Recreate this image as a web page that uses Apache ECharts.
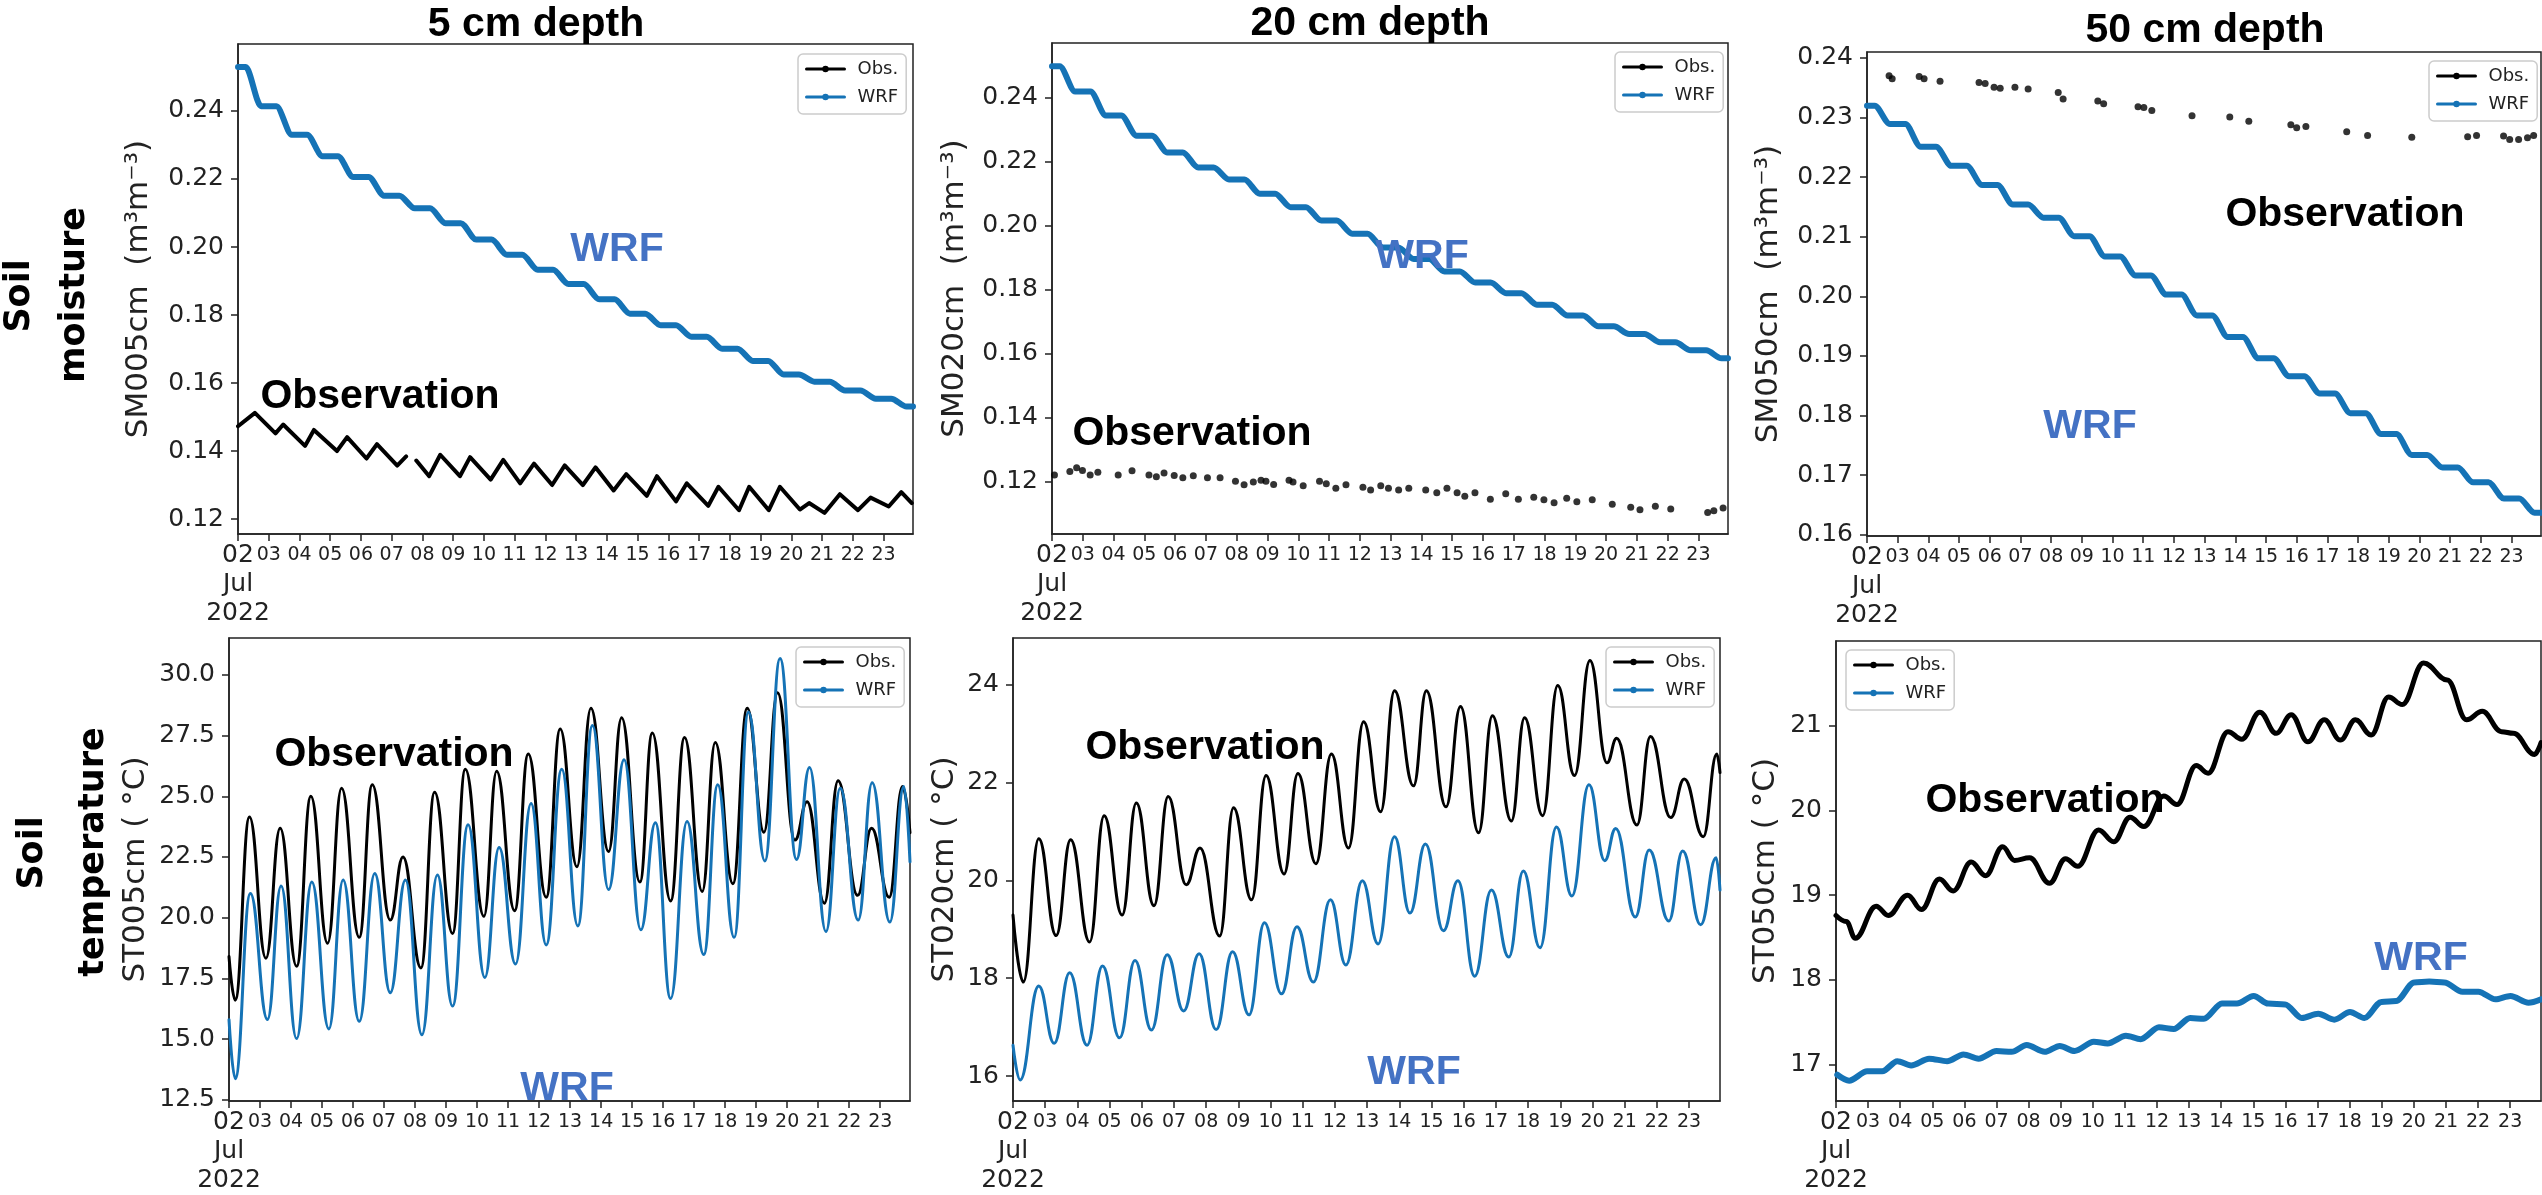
<!DOCTYPE html>
<html>
<head>
<meta charset="utf-8">
<script src="https://cdn.jsdelivr.net/npm/echarts@6/dist/echarts.min.js"></script>
<style>
html,body{margin:0;padding:0;background:#fff;}
#chart{width:2542px;height:1195px;}
</style>
</head>
<body>
<div id="chart"></div>
<script>
// ---------------- DATA (x = day of July 2022, fractional) ----------------
const dayTicks = [2,3,4,5,6,7,8,9,10,11,12,13,14,15,16,17,18,19,20,21,22,23];
const dayLabels = [3,4,5,6,7,8,9,10,11,12,13,14,15,16,17,18,19,20,21,22,23];
const majorDay = [2];
const smTicks = [0.12,0.14,0.16,0.18,0.20,0.22,0.24];
const sm50Ticks = [0.16,0.17,0.18,0.19,0.20,0.21,0.22,0.23,0.24];
const st005Ticks = [12.5,15,17.5,20,22.5,25,27.5,30];
const st020Ticks = [16,18,20,22,24];
const st050Ticks = [17,18,19,20,21];

// WRF soil moisture: value at start, plateau value around each midnight (Jul 3..23), final value
const sm005WrfStart = 0.2529;
const sm005WrfDaily = [0.2414,0.2330,0.2267,0.2206,0.2151,0.2114,0.2070,0.2022,0.1977,0.1933,0.1891,0.1846,0.1804,0.1770,0.1736,0.1701,0.1665,0.1625,0.1604,0.1578,0.1554];
const sm005WrfEnd = 0.1531;
const sm020WrfStart = 0.2499;
const sm020WrfDaily = [0.2420,0.2345,0.2282,0.2229,0.2182,0.2145,0.2100,0.2058,0.2016,0.1975,0.1932,0.1896,0.1857,0.1822,0.1789,0.1753,0.1719,0.1685,0.1661,0.1635,0.1610];
const sm020WrfEnd = 0.1585;
const sm050WrfStart = 0.2320;
const sm050WrfDaily = [0.2289,0.2251,0.2219,0.2187,0.2154,0.2132,0.2101,0.2067,0.2035,0.2003,0.1968,0.1932,0.1896,0.1866,0.1837,0.1804,0.1769,0.1734,0.1713,0.1688,0.1661];
const sm050WrfEnd = 0.1637;

// Observed soil moisture 5 cm (daily peaks / troughs)
const sm005Obs = [[2.0,0.1473],[2.55,0.1512],[3.22,0.1452],[3.47,0.1478],[4.18,0.1415],[4.47,0.1462],[5.22,0.1400],[5.55,0.1441],[6.18,0.1378],[6.52,0.1420],[7.18,0.1357],[7.47,0.1384],[7.62,'-'],[7.8,0.1372],[8.22,0.1326],[8.58,0.1389],[9.22,0.1326],[9.55,0.1382],[10.22,0.1316],[10.63,0.1374],[11.18,0.1305],[11.63,0.1363],[12.22,0.1300],[12.63,0.1358],[13.22,0.1300],[13.63,0.1352],[14.22,0.1284],[14.63,0.1332],[15.3,0.1268],[15.63,0.1326],[16.25,0.1252],[16.6,0.1305],[17.3,0.1239],[17.63,0.1295],[18.3,0.1226],[18.63,0.1295],[19.27,0.1226],[19.63,0.1295],[20.28,0.1228],[20.58,0.1247],[21.08,0.1218],[21.58,0.1273],[22.17,0.1226],[22.58,0.1263],[23.17,0.1237],[23.58,0.1279],[23.92,0.1247]];
// Observed soil moisture 20 cm (sparse points)
const sm020Obs = [[2.08,0.1220],[2.58,0.1231],[2.8,0.1242],[2.99,0.1234],[3.24,0.1220],[3.49,0.1228],[4.15,0.1220],[4.6,0.1233],[5.15,0.1220],[5.39,0.1214],[5.64,0.1226],[5.97,0.1218],[6.25,0.1211],[6.59,0.1217],[7.05,0.1211],[7.46,0.1211],[7.96,0.1200],[8.24,0.1189],[8.54,0.1198],[8.79,0.1203],[8.95,0.1200],[9.2,0.1190],[9.7,0.1203],[9.83,0.1198],[10.16,0.1186],[10.69,0.1200],[10.91,0.1192],[11.22,0.1178],[11.55,0.1189],[12.1,0.1181],[12.35,0.1173],[12.68,0.1186],[12.93,0.1178],[13.26,0.1173],[13.59,0.1178],[14.14,0.1173],[14.5,0.1164],[14.83,0.1178],[15.16,0.1164],[15.41,0.1153],[15.74,0.1164],[16.24,0.1144],[16.74,0.1161],[17.15,0.1144],[17.65,0.1150],[17.98,0.1142],[18.31,0.1133],[18.72,0.1147],[19.05,0.1136],[19.55,0.1142],[20.2,0.1128],[20.8,0.1119],[21.1,0.1111],[21.6,0.1122],[22.1,0.1113],[23.3,0.1102],[23.5,0.1108],[23.8,0.1116]];
// Observed soil moisture 50 cm (sparse points)
const sm050Obs = [[2.72,0.2370],[2.82,0.2365],[3.7,0.2369],[3.86,0.2365],[4.38,0.2361],[5.65,0.2359],[5.85,0.2357],[6.14,0.2351],[6.34,0.2349],[6.82,0.2351],[7.25,0.2348],[8.23,0.2342],[8.39,0.2331],[9.52,0.2328],[9.71,0.2323],[10.83,0.2318],[11.02,0.2317],[11.28,0.2312],[12.59,0.2303],[13.82,0.2301],[14.44,0.2294],[15.81,0.2288],[16.0,0.2283],[16.3,0.2285],[17.63,0.2276],[18.31,0.2270],[19.75,0.2267],[21.57,0.2268],[21.86,0.2270],[22.74,0.2269],[22.94,0.2263],[23.23,0.2263],[23.52,0.2266],[23.72,0.2270]];

// Soil temperature 5 cm (daily peaks / troughs)
const st005Obs = [[2.0,18.4],[2.2,16.6],[2.66,24.15],[3.19,18.33],[3.65,23.68],[4.18,18.0],[4.64,25.0],[5.18,18.95],[5.63,25.33],[6.2,19.19],[6.62,25.48],[7.2,19.9],[7.61,22.5],[8.19,17.93],[8.63,25.17],[9.21,19.35],[9.62,26.11],[10.22,20.06],[10.63,26.03],[11.21,20.29],[11.65,26.74],[12.23,20.84],[12.68,27.77],[13.22,22.1],[13.67,28.63],[14.24,22.73],[14.66,28.24],[15.25,21.47],[15.65,27.61],[16.24,20.69],[16.69,27.42],[17.26,21.08],[17.68,27.22],[18.25,21.4],[18.71,28.63],[19.25,23.52],[19.69,29.26],[20.25,23.2],[20.64,24.78],[21.2,20.6],[21.64,25.64],[22.27,20.92],[22.72,23.68],[23.29,20.84],[23.72,25.4],[23.96,23.5]];
const st005Wrf = [[2.0,15.8],[2.2,13.37],[2.69,21.0],[3.24,15.81],[3.68,21.31],[4.18,15.02],[4.67,21.47],[5.22,15.42],[5.68,21.55],[6.2,15.73],[6.7,21.82],[7.2,16.91],[7.69,21.55],[8.22,15.18],[8.72,21.76],[9.21,16.36],[9.71,23.83],[10.25,17.54],[10.71,22.89],[11.24,18.09],[11.74,24.7],[12.23,18.88],[12.73,26.11],[13.25,19.66],[13.72,27.92],[14.24,21.16],[14.74,26.51],[15.28,19.5],[15.75,23.91],[16.24,16.67],[16.77,23.96],[17.31,18.48],[17.76,25.48],[18.29,19.19],[18.75,28.47],[19.28,22.34],[19.77,30.68],[20.3,22.4],[20.72,26.19],[21.25,19.43],[21.71,25.33],[22.29,19.9],[22.74,25.56],[23.31,19.82],[23.76,25.4],[23.96,22.3]];
// Soil temperature 20 cm
const st020Obs = [[2.0,19.29],[2.32,17.92],[2.8,20.85],[3.34,18.87],[3.79,20.83],[4.38,18.74],[4.83,21.32],[5.39,19.29],[5.83,21.58],[6.38,19.48],[6.82,21.71],[7.38,19.91],[7.81,20.66],[8.42,18.86],[8.85,21.48],[9.41,19.6],[9.86,22.14],[10.42,20.13],[10.85,22.18],[11.41,20.34],[11.89,22.58],[12.42,20.66],[12.89,23.24],[13.42,21.4],[13.85,23.87],[14.44,21.93],[14.84,23.87],[15.45,21.5],[15.9,23.55],[16.46,20.97],[16.89,23.36],[17.48,21.21],[17.89,23.32],[18.45,21.32],[18.92,23.98],[19.44,22.14],[19.92,24.49],[20.45,22.4],[20.75,22.9],[21.38,21.13],[21.8,22.94],[22.43,21.28],[22.85,22.07],[23.44,20.89],[23.86,22.58],[23.96,22.2]];
const st020Wrf = [[2.0,16.63],[2.22,15.92],[2.8,17.84],[3.28,16.67],[3.76,18.11],[4.3,16.63],[4.78,18.25],[5.31,16.78],[5.79,18.36],[6.3,16.94],[6.79,18.48],[7.3,17.33],[7.78,18.5],[8.31,16.95],[8.82,18.54],[9.33,17.25],[9.81,19.13],[10.34,17.68],[10.82,19.05],[11.33,17.92],[11.86,19.6],[12.34,18.27],[12.85,19.99],[13.34,18.7],[13.85,20.89],[14.33,19.33],[14.81,20.74],[15.37,18.97],[15.82,19.99],[16.34,18.04],[16.86,19.8],[17.4,18.43],[17.85,20.19],[18.37,18.62],[18.88,21.09],[19.36,19.68],[19.89,21.95],[20.38,20.4],[20.72,21.06],[21.33,19.25],[21.76,20.62],[22.37,19.17],[22.8,20.6],[23.36,19.09],[23.84,20.46],[23.96,19.8]];
// Soil temperature 50 cm
const st050Obs = [[2.0,18.76],[2.32,18.69],[2.6,18.49],[3.25,18.87],[3.63,18.76],[4.23,19.0],[4.66,18.83],[5.22,19.19],[5.65,19.05],[6.21,19.39],[6.66,19.23],[7.19,19.57],[7.56,19.41],[8.03,19.44],[8.65,19.14],[9.15,19.43],[9.53,19.34],[10.18,19.77],[10.65,19.63],[11.16,19.92],[11.59,19.81],[12.21,20.17],[12.62,20.07],[13.22,20.53],[13.59,20.44],[14.21,20.93],[14.64,20.84],[15.2,21.16],[15.71,20.91],[16.18,21.13],[16.7,20.81],[17.21,21.07],[17.71,20.83],[18.18,21.07],[18.67,20.89],[19.21,21.34],[19.64,21.25],[20.3,21.74],[21.04,21.54],[21.64,21.07],[22.13,21.17],[22.73,20.93],[23.1,20.91],[23.76,20.66],[23.96,20.8]];
const st050Wrf = [[2.04,16.88],[2.41,16.81],[2.97,16.92],[3.44,16.92],[3.91,17.04],[4.34,16.99],[4.9,17.07],[5.46,17.04],[5.97,17.12],[6.44,17.07],[7.0,17.16],[7.47,17.15],[7.94,17.23],[8.5,17.15],[8.97,17.22],[9.43,17.16],[10.03,17.27],[10.46,17.25],[11.03,17.34],[11.49,17.3],[12.06,17.44],[12.52,17.42],[13.03,17.55],[13.46,17.54],[14.02,17.72],[14.49,17.72],[15.01,17.81],[15.46,17.72],[15.99,17.71],[16.51,17.55],[17.02,17.6],[17.52,17.53],[18.01,17.62],[18.46,17.55],[18.99,17.74],[19.45,17.75],[20.01,17.97],[20.48,17.98],[20.95,17.97],[21.51,17.86],[22.01,17.86],[22.54,17.77],[23.01,17.81],[23.57,17.73],[23.96,17.77]];

// ---------------- helpers ----------------
function stairs(start, daily, end) {
  // plateau around each midnight, decline during the day (06h-18h)
  const pts = [[2, start], [2.25, start]];
  daily.forEach((v, i) => { const d = 3 + i; pts.push([d - 0.25, v], [d + 0.25, v]); });
  pts.push([23.75, end], [23.96, end]);
  return pts;
}

const FONT = "'DejaVu Sans', sans-serif";
const BOLD = "'Liberation Sans', Arial, sans-serif";
const AX = '#222';
const BLUE = '#1573b6';
const X_MIN = 2, X_MAX = 23.96;

// layout of the six panels
const panels = [
  {left:238, top:44, width:675, height:490, ymin:0.1156, ymax:0.2597, ticks:smTicks, dec:2, name:'SM005cm  (m³m⁻³)', gap:84, legend:{left:798, top:54}},
  {left:1052, top:43, width:676, height:491, ymin:0.1035, ymax:0.2572, ticks:smTicks, dec:2, name:'SM020cm  (m³m⁻³)', gap:82, legend:{left:1615, top:52}},
  {left:1867, top:52, width:674, height:484, ymin:0.1598, ymax:0.2410, ticks:sm50Ticks, dec:2, name:'SM050cm  (m³m⁻³)', gap:83, legend:{left:2429, top:61}},
  {left:229, top:638, width:681, height:489, ymin:12.45, ymax:31.52, ticks:st005Ticks, dec:1, name:'ST005cm ( °C)', gap:78, legend:{left:796, top:647}},
  {left:1013, top:638, width:707, height:489, ymin:15.49, ymax:24.95, ticks:st020Ticks, dec:0, name:'ST020cm ( °C)', gap:53, legend:{left:1606, top:647}},
  {left:1836, top:641, width:705, height:490, ymin:16.57, ymax:22.0, ticks:st050Ticks, dec:0, name:'ST050cm ( °C)', gap:55, legend:{left:1846, top:650}}
];

const grids = panels.map(p => ({left:p.left, top:p.top, width:p.width, height:p.height, show:true, borderColor:AX, borderWidth:1.5, backgroundColor:'transparent'}));

// main day axes (ticks every day, minor labels 03..23)
const xAxesMain = panels.map((p, i) => ({
  gridIndex:i, type:'value', position:'bottom', min:X_MIN, max:X_MAX,
  axisLine:{show:true, onZero:false, lineStyle:{color:AX, width:1.5}},
  axisTick:{show:true, customValues:dayTicks, length:7, lineStyle:{color:AX, width:1.5}},
  axisLabel:{show:true, customValues:dayLabels, interval:0, hideOverlap:false, margin:7,
    color:AX, fontFamily:FONT, fontSize:19, lineHeight:29,
    formatter: v => String(Math.round(v)).padStart(2, '0')},
  splitLine:{show:false}
}));
// companion axes carrying the major date label "02 / Jul / 2022"
const xAxesMajor = panels.map((p, i) => ({
  gridIndex:i, type:'value', position:'bottom', offset:0, min:X_MIN, max:X_MAX,
  axisLine:{show:false}, axisTick:{show:false}, splitLine:{show:false},
  axisLabel:{show:true, customValues:majorDay, margin:7, color:AX, fontFamily:FONT, fontSize:25, lineHeight:29,
    formatter: () => '02\nJul\n2022'}
}));

const yAxes = panels.map((p, i) => ({
  gridIndex:i, type:'value', min:p.ymin, max:p.ymax,
  axisLine:{show:true, onZero:false, lineStyle:{color:AX, width:1.5}},
  axisTick:{show:true, customValues:p.ticks, length:7, lineStyle:{color:AX, width:1.5}},
  axisLabel:{show:true, customValues:p.ticks, margin:14, color:AX, fontFamily:FONT, fontSize:25,
    formatter: v => Number(v).toFixed(p.dec)},
  splitLine:{show:false},
  name:p.name, nameLocation:'middle', nameGap:p.gap, nameRotate:90,
  nameTextStyle:{fontFamily:FONT, fontSize:31, color:AX}
}));

function lineSeries(name, idx, data, color, width, smooth) {
  return {name, type:'line', xAxisIndex:idx, yAxisIndex:idx, data,
    symbol:'circle', symbolSize:6, showSymbol:false, connectNulls:false,
    smooth: smooth, smoothMonotone:'x',
    lineStyle:{color, width, cap:'round', join:'round'}, itemStyle:{color},
    emphasis:{disabled:true}};
}
function scatterSeries(name, idx, data) {
  return {name, type:'scatter', xAxisIndex:idx, yAxisIndex:idx, data,
    symbol:'circle', symbolSize:7, itemStyle:{color:'#000'}, emphasis:{disabled:true}};
}

const series = [
  lineSeries('Obs.', 0, sm005Obs, '#000', 4, false),
  lineSeries('WRF', 0, stairs(sm005WrfStart, sm005WrfDaily, sm005WrfEnd), BLUE, 6, 0.3),
  scatterSeries('Obs.', 1, sm020Obs),
  lineSeries('WRF', 1, stairs(sm020WrfStart, sm020WrfDaily, sm020WrfEnd), BLUE, 6, 0.3),
  scatterSeries('Obs.', 2, sm050Obs),
  lineSeries('WRF', 2, stairs(sm050WrfStart, sm050WrfDaily, sm050WrfEnd), BLUE, 6, 0.3),
  lineSeries('Obs.', 3, st005Obs, '#000', 3, 0.45),
  lineSeries('WRF', 3, st005Wrf, BLUE, 3, 0.45),
  lineSeries('Obs.', 4, st020Obs, '#000', 3, 0.45),
  lineSeries('WRF', 4, st020Wrf, BLUE, 3, 0.45),
  lineSeries('Obs.', 5, st050Obs, '#000', 5, 0.4),
  lineSeries('WRF', 5, st050Wrf, BLUE, 6, 0.3)
];

const legends = panels.map(p => ({
  left:p.legend.left, top:p.legend.top, orient:'vertical',
  backgroundColor:'rgba(255,255,255,0.85)', borderColor:'#cccccc', borderWidth:1.5, borderRadius:5,
  padding:[5,8,7,7], itemGap:8, itemWidth:38, itemHeight:8,
  textStyle:{fontFamily:FONT, fontSize:18, color:AX, lineHeight:20, padding:[0,0,0,8]},
  lineStyle:{width:3}, selectedMode:false,
  data:[{name:'Obs.', itemStyle:{color:'#000'}, lineStyle:{color:'#000', width:3}},
        {name:'WRF', itemStyle:{color:BLUE}, lineStyle:{color:BLUE, width:3}}]
}));

function txt(text, x, y, size, color, family, rot) {
  return {type:'text', x, y, rotation: rot || 0, silent:true, z:100,
    style:{text, fill:color, fontFamily:family, fontSize:size, fontWeight:'bold',
      align:'center', verticalAlign:'middle', textAlign:'center', textVerticalAlign:'middle'}};
}
const OBS_C = '#000', WRF_C = '#4472C4';
const graphics = [
  txt('5 cm depth', 536, 25, 41, '#000', BOLD),
  txt('20 cm depth', 1370, 24, 41, '#000', BOLD),
  txt('50 cm depth', 2205, 31, 41, '#000', BOLD),
  txt('WRF', 617, 250, 41, WRF_C, BOLD),
  txt('Observation', 380, 397, 41, OBS_C, BOLD),
  txt('WRF', 1422, 257, 41, WRF_C, BOLD),
  txt('Observation', 1192, 434, 41, OBS_C, BOLD),
  txt('Observation', 2345, 215, 41, OBS_C, BOLD),
  txt('WRF', 2090, 427, 41, WRF_C, BOLD),
  txt('Observation', 394, 755, 41, OBS_C, BOLD),
  txt('WRF', 567, 1089, 41, WRF_C, BOLD),
  txt('Observation', 1205, 748, 41, OBS_C, BOLD),
  txt('WRF', 1414, 1073, 41, WRF_C, BOLD),
  txt('Observation', 2045, 801, 41, OBS_C, BOLD),
  txt('WRF', 2421, 959, 41, WRF_C, BOLD),
  txt('Soil', 20, 296, 35, '#000', FONT, Math.PI/2),
  txt('moisture', 75, 295, 35, '#000', FONT, Math.PI/2),
  txt('Soil', 33, 853, 35, '#000', FONT, Math.PI/2),
  txt('temperature', 94, 852, 35, '#000', FONT, Math.PI/2)
];

const chart = echarts.init(document.getElementById('chart'), null, {renderer:'canvas'});
chart.setOption({
  animation:false,
  backgroundColor:'#fff',
  grid:grids, xAxis:xAxesMain.concat(xAxesMajor), yAxis:yAxes, legend:legends, series,
  graphic:{elements:graphics}
});
</script>
</body>
</html>
